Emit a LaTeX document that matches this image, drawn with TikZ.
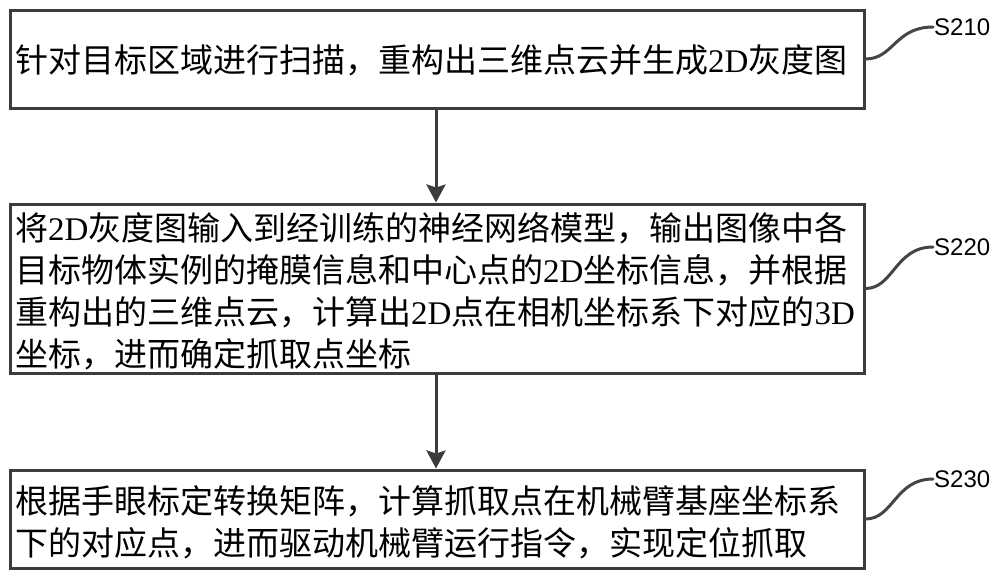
\documentclass[tikz,border=0pt]{standalone}
\usepackage{fontspec}
\setmainfont{Liberation Serif}
\newfontfamily\cjk{Noto Sans CJK SC}
\newfontfamily\labfont{Liberation Sans}
\usetikzlibrary{arrows.meta}
\definecolor{boxgray}{HTML}{3C3C3C}
\definecolor{curvegray}{HTML}{454545}
\begin{document}
\begin{tikzpicture}[x=1pt,y=-1pt,
  stepbox/.style={draw=boxgray,line width=3pt,minimum width=854pt,inner sep=0pt},
  txt/.style={anchor=base west,inner sep=0pt,font=\fontsize{33}{33}\selectfont},
  lab/.style={anchor=west,inner sep=1pt,font=\labfont\fontsize{24}{24}\selectfont},
  link/.style={draw=curvegray,line width=3pt,line cap=round},
  flow/.style={draw=boxgray,line width=3pt,-{Stealth[length=18pt,width=19pt,inset=3pt]}}]
\useasboundingbox (0,0) rectangle (1000,579);
\node[stepbox,minimum height=98pt] (b1) at (437,59) {};
\node[stepbox,minimum height=169pt] (b2) at (437,288.5) {};
\node[stepbox,minimum height=98pt] (b3) at (437,519) {};

\node[txt] (t1) at (15,72.5) {{\cjk 针对目标区域进行扫描，重构出三维点云并生成}2D{\cjk 灰度图}};

\node[txt] (t2a) at (15,240.5) {{\cjk 将}2D{\cjk 灰度图输入到经训练的神经网络模型，输出图像中各}};
\node[txt] (t2b) at (15,282) {{\cjk 目标物体实例的掩膜信息和中心点的}2D{\cjk 坐标信息，并根据}};
\node[txt] (t2c) at (15,324.5) {{\cjk 重构出的三维点云，计算出}2D{\cjk 点在相机坐标系下对应的}3D};
\node[txt] (t2d) at (15,366) {{\cjk 坐标，进而确定抓取点坐标}};

\node[txt] (t3a) at (15,513) {{\cjk 根据手眼标定转换矩阵，计算抓取点在机械臂基座坐标系}};
\node[txt] (t3b) at (15,555) {{\cjk 下的对应点，进而驱动机械臂运行指令，实现定位抓取}};

\node[lab] (l1) at (933,27) {S210};
\node[lab] (l2) at (933,247) {S220};
\node[lab] (l3) at (933,479) {S230};

\draw[link] (b1.east) .. controls +(28,0) and +(-38,0) .. (l1.west);
\draw[link] (b2.east) .. controls +(28,0) and +(-38,0) .. (l2.west);
\draw[link] (b3.east) .. controls +(28,0) and +(-38,0) .. (l3.west);

\draw[flow] (b1.south -| 436,0) -- (b2.north -| 436,0);
\draw[flow] (b2.south -| 436,0) -- (b3.north -| 436,0);
\end{tikzpicture}
\end{document}
